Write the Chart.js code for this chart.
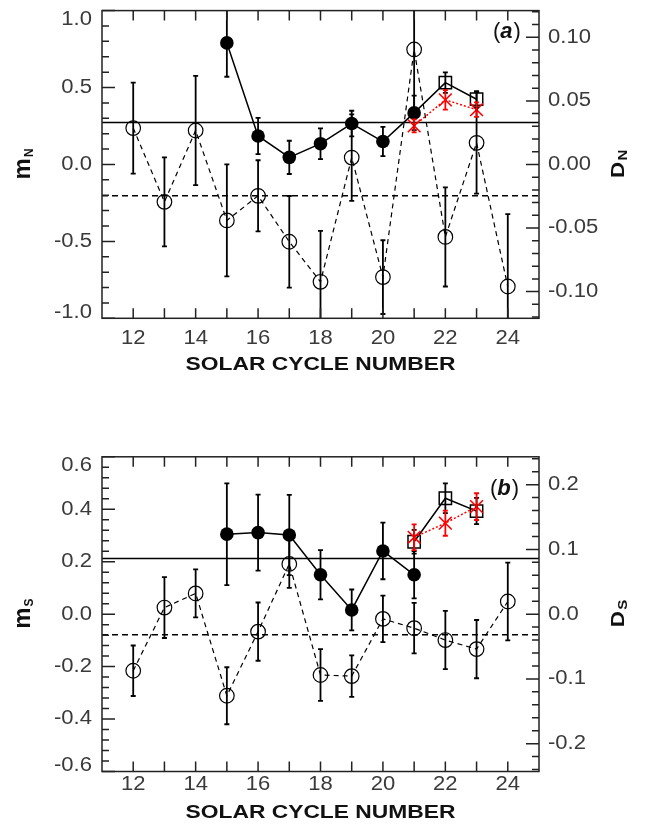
<!DOCTYPE html>
<html><head><meta charset="utf-8">
<script src="https://cdn.jsdelivr.net/npm/chart.js@4.4.1/dist/chart.umd.min.js"></script>
<style>
html,body{margin:0;padding:0;background:#fff;width:662px;height:833px;overflow:hidden}
canvas{position:absolute;left:0}
</style></head><body>
<canvas id="chartA" width="662" height="400" style="top:0"></canvas>
<canvas id="chartB" width="662" height="413" style="top:420px"></canvas>
<script>
// ---------------- DATA ----------------
const cycles = [12,13,14,15,16,17,18,19,20,21,22,23,24];
const xLabelTicks = [12,14,16,18,20,22,24];
const xAxisTitle = "SOLAR CYCLE NUMBER";

// Panel (a) - North
const aFilledCycles = [15,16,17,18,19,20,21];
const aFilledM   = [0.79,0.185,0.046,0.135,0.266,0.149,0.335];
const aFilledErr = [0.22,0.118,0.108,0.10,0.083,0.095,0.112];
const aSquareCycles = [22,23];
const aSquareM   = [0.532,0.424];
const aSquareErr = [0.067,0.053];
const aStarCycles = [21,22,23];
const aStarM     = [0.251,0.42,0.356];
const aStarErr   = [0.042,0.063,0.047];
const aOpenD     = [0.0286,-0.0294,0.0267,-0.044,-0.0247,-0.0608,-0.0923,0.0054,-0.0886,0.0904,-0.057,0.017,-0.096];
const aOpenErr   = [0.0358,0.035,0.043,0.044,0.028,0.036,0.04,0.034,0.029,0.05,0.039,0.04,0.057];
const aMeanM = 0.272;
const aMeanD = -0.0247;
const aLeftTicks  = [-1.0,-0.5,0.0,0.5,1.0];
const aRightTicks = [-0.10,-0.05,0.00,0.05,0.10];

// Panel (b) - South
const bFilledCycles = [15,16,17,18,19,20,21];
const bFilledM   = [0.305,0.311,0.302,0.150,0.016,0.241,0.150];
const bFilledErr = [0.194,0.145,0.153,0.094,0.078,0.108,0.09];
const bSquareCycles = [21,22,23];
const bSquareM   = [0.276,0.442,0.393];
const bSquareErr = [0.045,0.057,0.05];
const bStarCycles = [21,22,23];
const bStarM     = [0.293,0.347,0.41];
const bStarErr   = [0.049,0.048,0.051];
const bOpenD     = [-0.0874,0.0102,0.032,-0.126,-0.027,0.0775,-0.094,-0.0957,-0.0073,-0.0217,-0.040,-0.054,0.0195];
const bOpenErr   = [0.039,0.047,0.037,0.044,0.045,0.037,0.04,0.032,0.036,0.039,0.045,0.045,0.06];
const bMeanM = 0.212;
const bMeanD = -0.032;
const bLeftTicks  = [-0.6,-0.4,-0.2,0.0,0.2,0.4,0.6];
const bRightTicks = [-0.2,-0.1,0.0,0.1,0.2];

// ---------------- HELPERS ----------------
const X_MIN = 11, X_MAX = 25;
function pts(xs, ys){ return xs.map((x,i)=>({x:x, y:ys[i]})); }

function drawText(ctx, txt, x, y, o){
  ctx.save();
  ctx.translate(x, y);
  if (o.rot) ctx.rotate(o.rot);
  ctx.scale(o.sx||1, 1);
  ctx.font = o.font; ctx.fillStyle = o.color||'#000';
  ctx.textAlign = o.align||'center'; ctx.textBaseline = o.baseline||'middle';
  ctx.fillText(txt, 0, 0);
  ctx.restore();
}

// rotated title with subscript, centred vertically at cy, baseline at baseX
function drawSubTitle(ctx, main, sub, cy, mainFont, subFont, sx, baseX){
  ctx.save();
  ctx.translate(baseX, cy);
  ctx.rotate(-Math.PI/2);
  ctx.scale(sx, 1);
  ctx.fillStyle = '#111';
  ctx.textBaseline = 'alphabetic';
  ctx.textAlign = 'left';
  ctx.font = mainFont; const w1 = ctx.measureText(main).width;
  ctx.font = subFont;  const w2 = ctx.measureText(sub).width;
  const start = -(w1 + w2)/2;
  ctx.font = mainFont; ctx.fillText(main, start, 0);
  ctx.font = subFont;  ctx.fillText(sub, start + w1 + 1, 3);
  ctx.restore();
}

const errorBarPlugin = {
  id: 'errbars',
  afterDatasetsDraw(chart){
    const {ctx, chartArea:a} = chart;
    ctx.save();
    ctx.beginPath(); ctx.rect(a.left, a.top, a.right-a.left, a.bottom-a.top); ctx.clip();
    chart.data.datasets.forEach((ds)=>{
      if (!ds.errors) return;
      const ys = chart.scales[ds.yAxisID], xs = chart.scales.x;
      ctx.strokeStyle = ds.errorColor || '#000';
      ctx.lineWidth = 1.8;
      ds.data.forEach((d,j)=>{
        const e = ds.errors[j];
        const x = xs.getPixelForValue(d.x);
        const y1 = ys.getPixelForValue(d.y + e), y2 = ys.getPixelForValue(d.y - e);
        ctx.beginPath();
        ctx.moveTo(x, y1); ctx.lineTo(x, y2);
        ctx.moveTo(x-2.5, y1); ctx.lineTo(x+2.5, y1);
        ctx.moveTo(x-2.5, y2); ctx.lineTo(x+2.5, y2);
        ctx.stroke();
      });
    });
    ctx.restore();
  }
};

const framePlugin = {
  id: 'frame',
  afterDraw(chart, args, o){
    const {ctx, chartArea:a, scales} = chart;
    const xs = scales.x, yl = scales.yL, yr = scales.yR;
    ctx.save();
    ctx.strokeStyle = '#222'; ctx.lineWidth = 1.5;
    ctx.strokeRect(a.left, a.top, a.right-a.left, a.bottom-a.top);
    ctx.beginPath();
    for (let c = 12; c <= 24; c++){
      const px = xs.getPixelForValue(c);
      ctx.moveTo(px, a.bottom); ctx.lineTo(px, a.bottom-10);
      ctx.moveTo(px, a.top); ctx.lineTo(px, a.top+10);
    }
    const minor = (scale, step, x0, dir, len) => {
      const k0 = Math.ceil(scale.min/step - 1e-6), k1 = Math.floor(scale.max/step + 1e-6);
      for (let k = k0; k <= k1; k++){
        const py = scale.getPixelForValue(k*step);
        ctx.moveTo(x0, py); ctx.lineTo(x0 + dir*len, py);
      }
    };
    minor(yl, o.leftMinor, a.left, 1, 7);
    minor(yr, o.rightMinor, a.right, -1, 7);
    o.leftTicks.forEach(v=>{ const py = yl.getPixelForValue(v); ctx.moveTo(a.left,py); ctx.lineTo(a.left+13,py); });
    o.rightTicks.forEach(v=>{ const py = yr.getPixelForValue(v); ctx.moveTo(a.right,py); ctx.lineTo(a.right-13,py); });
    ctx.stroke();
    ctx.restore();

    const tf = '19.5px "Liberation Sans", Arial, sans-serif', tc = '#3a3a3a', sx = 1.13;
    const clampY = y => Math.max(a.top+9, Math.min(a.bottom-6, y));
    o.leftTicks.forEach(v=>{
      drawText(ctx, v.toFixed(o.leftDec), a.left-10, clampY(yl.getPixelForValue(v)), {font:tf, color:tc, align:'right', sx:sx});
    });
    o.rightTicks.forEach(v=>{
      drawText(ctx, v.toFixed(o.rightDec), a.right+9, clampY(yr.getPixelForValue(v)), {font:tf, color:tc, align:'left', sx:sx});
    });
    xLabelTicks.forEach(v=>{
      drawText(ctx, String(v), xs.getPixelForValue(v), a.bottom + o.xLabelOff, {font:tf, color:tc, align:'center', sx:sx});
    });
    drawText(ctx, xAxisTitle, (a.left+a.right)/2, a.bottom + o.xTitleOff,
      {font:'bold 19px "Liberation Sans", Arial, sans-serif', color:'#111', align:'center', sx:1.2});
    const cy = (a.top + a.bottom)/2;
    drawSubTitle(ctx, 'm', o.sub, cy, 'bold 24px "Liberation Sans", Arial, sans-serif', 'bold 12px "Liberation Sans", Arial, sans-serif', 1, 30);
    drawSubTitle(ctx, 'D', o.sub, cy, 'bold 18px "Liberation Sans", Arial, sans-serif', 'bold 12px "Liberation Sans", Arial, sans-serif', 1.25, 624);
    // panel label "(a)"
    ctx.save();
    ctx.fillStyle = '#111'; ctx.textBaseline = 'alphabetic'; ctx.textAlign = 'left';
    let x = o.labelX;
    ctx.font = '22px "Liberation Sans", Arial, sans-serif'; ctx.fillText('(', x, o.labelY); x += ctx.measureText('(').width;
    ctx.font = 'italic bold 22px "Liberation Sans", Arial, sans-serif'; ctx.fillText(o.letter, x, o.labelY); x += ctx.measureText(o.letter).width + 1;
    ctx.font = '22px "Liberation Sans", Arial, sans-serif'; ctx.fillText(')', x, o.labelY);
    ctx.restore();
  }
};

function buildPanel(id, p){
  const ds = [];
  ds.push({data:[{x:X_MIN,y:p.meanM},{x:X_MAX,y:p.meanM}], yAxisID:'yL', showLine:true, borderColor:'#000', borderWidth:1.5, pointRadius:0, order:10});
  ds.push({data:[{x:X_MIN,y:p.meanD},{x:X_MAX,y:p.meanD}], yAxisID:'yR', showLine:true, borderColor:'#000', borderWidth:1.5, borderDash:[6,4], pointRadius:0, order:10});
  ds.push({data:pts(cycles, p.openD), errors:p.openErr, yAxisID:'yR', showLine:true, borderColor:'#000', borderWidth:1.2, borderDash:[5,4],
    pointStyle:'circle', pointRadius:7.3, pointBorderWidth:1.2, pointBackgroundColor:'rgba(0,0,0,0)', pointBorderColor:'#000', order:6});
  p.solidLines.forEach(l=>ds.push({data:pts(l.x, l.y), yAxisID:'yL', showLine:true, borderColor:'#000', borderWidth:1.5, pointRadius:0, order:5}));
  ds.push({data:pts(p.filledX, p.filledM), errors:p.filledErr, yAxisID:'yL', showLine:false, pointStyle:'circle', pointRadius:6.8,
    pointBackgroundColor:'#000', pointBorderColor:'#000', pointBorderWidth:0, order:2});
  ds.push({data:pts(p.squareX, p.squareM), errors:p.squareErr, yAxisID:'yL', showLine:false, pointStyle:'rect', pointRadius:8.7,
    pointBorderWidth:1.5, pointBackgroundColor:'rgba(0,0,0,0)', pointBorderColor:'#000', order:3});
  ds.push({data:pts(p.starX, p.starM), errors:p.starErr, errorColor:'#ff0000', yAxisID:'yL', showLine:true, borderColor:'#ff0000', borderWidth:1.5, borderDash:[2,2],
    pointStyle:'crossRot', pointRadius:9, pointBorderWidth:1.6, pointBorderColor:'#ff0000', pointBackgroundColor:'#ff0000', order:1});

  const hidden = (fit) => ({ticks:{display:false}, grid:{display:false}, border:{display:false}, afterFit:fit});
  return new Chart(document.getElementById(id), {
    type:'scatter',
    data:{datasets:ds},
    plugins:[errorBarPlugin, framePlugin],
    options:{
      responsive:false, animation:false, events:[],
      layout:{padding:{top:p.top, left:0, right:0, bottom:0}},
      plugins:{legend:{display:false}, tooltip:{enabled:false}, frame:p.frame},
      scales:{
        x: Object.assign({type:'linear', min:X_MIN, max:X_MAX, position:'bottom'}, hidden(s=>{s.height = p.xh;})),
        yL: Object.assign({type:'linear', min:p.yL[0], max:p.yL[1], position:'left'}, hidden(s=>{s.width = 102;})),
        yR: Object.assign({type:'linear', min:p.yR[0], max:p.yR[1], position:'right'}, hidden(s=>{s.width = 123;}))
      }
    }
  });
}

buildPanel('chartA', {
  top:3.5, xh:400-318.3, yL:[-1,1], yR:[-0.121,0.121],
  meanM:aMeanM, meanD:aMeanD, openD:aOpenD, openErr:aOpenErr,
  solidLines:[{x:aFilledCycles.concat(aSquareCycles), y:aFilledM.concat(aSquareM)}],
  filledX:aFilledCycles, filledM:aFilledM, filledErr:aFilledErr,
  squareX:aSquareCycles, squareM:aSquareM, squareErr:aSquareErr,
  starX:aStarCycles, starM:aStarM, starErr:aStarErr,
  frame:{leftTicks:aLeftTicks, rightTicks:aRightTicks, leftMinor:0.1, rightMinor:0.01, leftDec:1, rightDec:2,
    xLabelOff:20, xTitleOff:46, sub:'N', letter:'a', labelX:493, labelY:38}
});

buildPanel('chartB', {
  top:36.8, xh:413-351.5, yL:[-0.6,0.6], yR:[-0.243,0.243],
  meanM:bMeanM, meanD:bMeanD, openD:bOpenD, openErr:bOpenErr,
  solidLines:[{x:bFilledCycles, y:bFilledM},{x:bSquareCycles, y:bSquareM}],
  filledX:bFilledCycles, filledM:bFilledM, filledErr:bFilledErr,
  squareX:bSquareCycles, squareM:bSquareM, squareErr:bSquareErr,
  starX:bStarCycles, starM:bStarM, starErr:bStarErr,
  frame:{leftTicks:bLeftTicks, rightTicks:bRightTicks, leftMinor:0.04, rightMinor:0.02, leftDec:1, rightDec:1,
    xLabelOff:13, xTitleOff:41, sub:'S', letter:'b', labelX:490, labelY:75}
});
</script>
</body></html>
